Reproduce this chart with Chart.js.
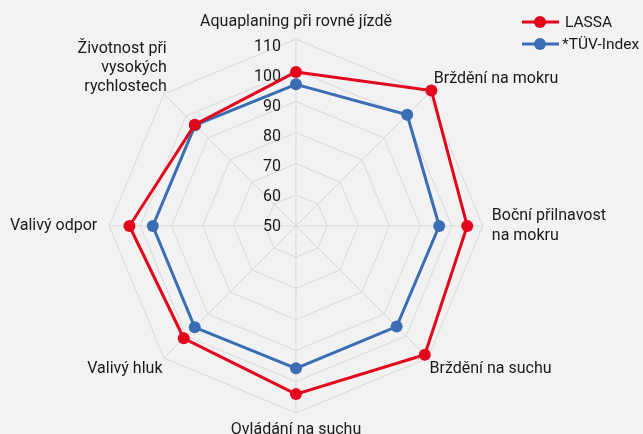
<!DOCTYPE html>
<html>
<head>
<meta charset="utf-8">
<script src="https://cdn.jsdelivr.net/npm/chart.js@4.4.1/dist/chart.umd.min.js"></script>
<style>
  html, body { margin: 0; padding: 0; background: #f2f2f2; overflow: hidden; width: 643px; height: 434px; }
  /* canvas is a bit larger than the window so the radar sits where the original has it */
  #wrap { position: absolute; left: -59px; top: 12px; width: 710px; height: 428px; }
</style>
</head>
<body>
<div id="wrap"><canvas id="chart"></canvas></div>
<script>
  // radar axes, clockwise from the top
  const categories = [
    "Aquaplaning při rovné jízdě",
    "Brždění na mokru",
    ["Boční přilnavost", "na mokru"],
    "Brždění na suchu",
    "Ovládání na suchu",
    "Valivý hluk",
    "Valivý odpor",
    ["Životnost při", "vysokých", "rychlostech"]
  ];
  const lassaValues = [99.5, 111.5, 105, 108.5, 104, 101, 103.5, 96];
  const tuvValues = [95.5, 100.5, 96, 95.7, 95.7, 96, 96, 95.8];
  const seriesNames = ["LASSA", "*TÜV-Index"];
  const tickValues = [50, 60, 70, 80, 90, 100, 110];

  const RED = "#e3051b";
  const BLUE = "#3b6db4";
  const TEXT = "#1a1a1a";
  const GRID = "#d9d9d9";
  const FONT = "Roboto";

  // wrapper offset, so overlay drawing can use page coordinates
  const OFFSET_X = 59, OFFSET_Y = 12;

  // per-label distance from the outer ring
  const labelPadding = [8, 8, 9, 2, 8, 2, 12, -4];

  // tick labels sit left of the vertical spoke (incl. the 50 at the centre)
  const tickLabelsPlugin = {
    id: "tickLabels",
    beforeDatasetsDraw(chart) {
      const r = chart.scales.r;
      const ctx = chart.ctx;
      ctx.save();
      ctx.font = "16px " + FONT;
      ctx.fillStyle = TEXT;
      ctx.textAlign = "right";
      ctx.textBaseline = "middle";
      tickValues.forEach(v => {
        const d = r.getDistanceFromCenterForValue(v) * 0.965;
        ctx.fillText(String(v), r.xCenter - 15, r.yCenter - d + 1);
      });
      ctx.restore();
    }
  };

  // legend: line with a dot, top right
  const lineLegendPlugin = {
    id: "lineLegend",
    afterDraw(chart) {
      const ctx = chart.ctx;
      ctx.save();
      ctx.translate(OFFSET_X, -OFFSET_Y);
      ctx.font = "15.5px " + FONT;
      ctx.textBaseline = "middle";
      chart.data.datasets.forEach((ds, i) => {
        const y = 22 + i * 22;
        ctx.strokeStyle = ds.borderColor;
        ctx.lineWidth = 3;
        ctx.beginPath();
        ctx.moveTo(522, y);
        ctx.lineTo(559, y);
        ctx.stroke();
        ctx.fillStyle = ds.borderColor;
        ctx.beginPath();
        ctx.arc(540, y, 6, 0, Math.PI * 2);
        ctx.fill();
        ctx.fillStyle = TEXT;
        ctx.fillText(ds.label, i === 0 ? 565 : 562, y + 1);
      });
      ctx.restore();
    }
  };

  new Chart(document.getElementById("chart"), {
    type: "radar",
    data: {
      labels: categories,
      datasets: [
        {
          label: seriesNames[0], data: lassaValues,
          borderColor: RED, backgroundColor: RED, pointBackgroundColor: RED,
          borderWidth: 3, pointRadius: 6, pointBorderWidth: 0, fill: false
        },
        {
          label: seriesNames[1], data: tuvValues,
          borderColor: BLUE, backgroundColor: BLUE, pointBackgroundColor: BLUE,
          borderWidth: 3, pointRadius: 6, pointBorderWidth: 0, fill: false
        }
      ]
    },
    options: {
      responsive: true,
      maintainAspectRatio: false,
      animation: false,
      layout: { padding: 0 },
      plugins: { legend: { display: false }, tooltip: { enabled: false } },
      scales: {
        r: {
          min: 50, max: 110,
          ticks: { stepSize: 10, display: false },
          grid: { color: GRID, lineWidth: 1 },
          angleLines: { color: GRID, lineWidth: 1 },
          pointLabels: {
            font: { family: FONT, size: 16 },
            color: TEXT,
            padding: ctx => labelPadding[ctx.index]
          }
        }
      }
    },
    plugins: [tickLabelsPlugin, lineLegendPlugin]
  });
</script>
</body>
</html>
